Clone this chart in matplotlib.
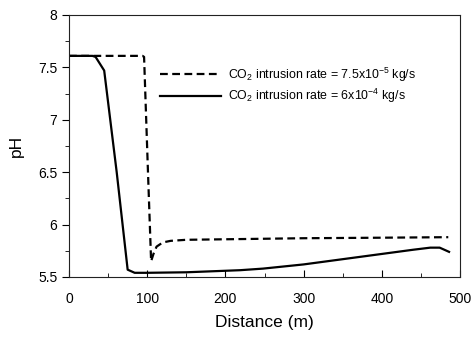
import matplotlib
matplotlib.use("Agg")
import matplotlib.pyplot as plt
from matplotlib.ticker import MultipleLocator

plt.rcParams["font.family"] = ["Liberation Sans", "DejaVu Sans"]
plt.rcParams["mathtext.fontset"] = "custom"
plt.rcParams["mathtext.rm"] = "Liberation Sans"
plt.rcParams["mathtext.it"] = "Liberation Sans:italic"

# low intrusion rate (dashed)
dist_low = [0, 20, 40, 60, 80, 94, 96, 101, 105, 108, 112, 120, 130, 150, 200, 300, 400, 485]
ph_low = [7.61, 7.61, 7.61, 7.61, 7.61, 7.61, 7.60, 6.5, 5.65, 5.72, 5.79, 5.83, 5.845, 5.855, 5.86, 5.87, 5.875, 5.88]

# high intrusion rate (solid)
dist_high = [0, 20, 30, 34, 45, 61, 75, 84, 100, 150, 219, 248, 300, 350, 400, 440, 462, 474, 486]
ph_high = [7.61, 7.61, 7.61, 7.60, 7.47, 6.5, 5.57, 5.54, 5.54, 5.545, 5.565, 5.58, 5.62, 5.67, 5.72, 5.76, 5.78, 5.78, 5.74]

label_low = r"CO$_2$ intrusion rate = 7.5x10$^{-5}$ kg/s"
label_high = r"CO$_2$ intrusion rate = 6x10$^{-4}$ kg/s"

fig = plt.figure(figsize=(4.74, 3.39), dpi=100)
ax = fig.add_axes([69 / 474, 1 - 277 / 339, (460 - 69) / 474, (277 - 15) / 339])

ax.plot(dist_low, ph_low, color="black", lw=1.6, linestyle=(0, (3.5, 2.0)), label=label_low)
ax.plot(dist_high, ph_high, color="black", lw=1.6, label=label_high)

ax.set_xlim(0, 500)
ax.set_ylim(5.5, 8)
ax.xaxis.set_major_locator(MultipleLocator(100))
ax.xaxis.set_minor_locator(MultipleLocator(50))
ax.yaxis.set_major_locator(MultipleLocator(0.5))
ax.yaxis.set_minor_locator(MultipleLocator(0.25))
ax.yaxis.set_major_formatter(plt.FuncFormatter(lambda v, p: "%g" % v))

ax.tick_params(axis="x", which="both", direction="in", labelsize=10, pad=11)
ax.tick_params(axis="x", which="major", length=5)
ax.tick_params(axis="x", which="minor", length=3)
ax.tick_params(axis="y", which="both", direction="out", labelsize=10)
ax.tick_params(axis="y", which="major", length=5)
ax.tick_params(axis="y", which="minor", length=3)

for s in ax.spines.values():
    s.set_linewidth(0.8)
    s.set_color("#222222")

ax.set_xlabel("Distance (m)", fontsize=12.5, labelpad=6)
ax.set_ylabel("pH", fontsize=12.5, labelpad=10)

ax.legend(loc="upper left", bbox_to_anchor=(0.205, 0.85), frameon=False, fontsize=8.9,
          handlelength=4.9, handletextpad=0.55, labelspacing=0.25)

fig.savefig("out.png", dpi=100)
